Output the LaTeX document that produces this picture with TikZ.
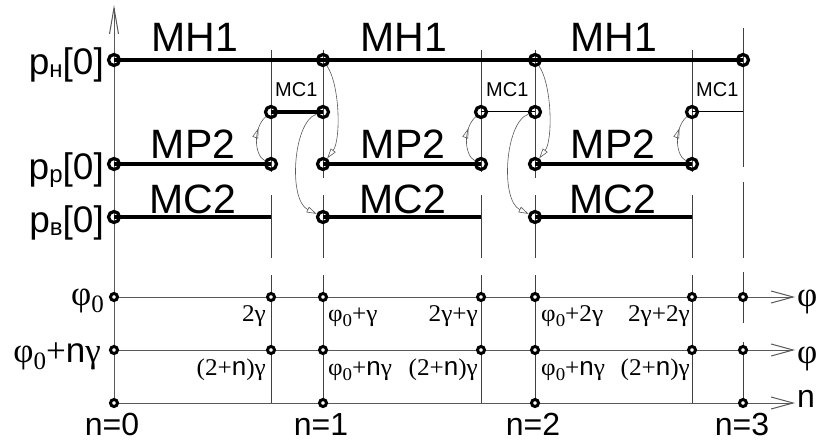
\documentclass[tikz,border=0pt]{standalone}
\usepackage{fontspec}
\setmainfont{Liberation Sans}
\newfontfamily\sns{Liberation Sans}
\newfontfamily\srf[FakeStretch=1.05]{Liberation Serif}
\newfontfamily\srfb{Liberation Serif}
\usetikzlibrary{arrows.meta,decorations.markings}
\pgfdeclarelayer{bg}
\pgfsetlayers{bg,main}
\newcommand\zsmall{\raisebox{-5pt}{\fontsize{18}{18}\selectfont 0}}
\newcommand\zbig{\raisebox{-7pt}{\fontsize{25}{25}\selectfont 0}}
\newcommand\nsm{{\sns\fontsize{26}{26}\selectfont n}}
\newcommand\psub[1]{p\raisebox{-3pt}{\fontsize{24}{24}\selectfont #1}[0]}
\tikzset{
  bigc/.style={circle,draw=black,line width=3.2pt,minimum size=11pt,inner sep=0pt},
  smc/.style={circle,draw=black,fill=white,line width=3pt,minimum size=7pt,inner sep=0pt},
  heavy/.style={line width=4.5pt,draw=black},
  thinblk/.style={line width=1pt,draw=black},
  vline/.style={line width=0.9pt,draw=black!75},
  gridl/.style={line width=1pt,draw=black!65},
  curv/.style={line width=0.6pt,draw=black!65},
  endarr/.style={-{Triangle[open,length=10pt,width=6pt]}},
  midarr/.style={postaction={decorate,decoration={markings,mark=at position #1 with {\arrow{Triangle[open,length=10pt,width=6pt]}}}}},
  bigt/.style={font=\fontsize{41}{45}\selectfont,inner sep=0pt},
  mct/.style={font=\fontsize{20}{22}\selectfont,inner sep=0pt},
  lblt/.style={font=\fontsize{37}{40}\selectfont,inner sep=0pt},
  smt/.style={font=\srf\fontsize{24}{26}\selectfont,inner sep=0pt},
  phit/.style={font=\srfb\fontsize{35}{37}\selectfont,inner sep=0pt},
  nt/.style={font=\sns\fontsize{32}{34}\selectfont,inner sep=0pt}
}
\begin{document}
\begin{tikzpicture}[x=1pt,y=-1pt]
\useasboundingbox (0,0) rectangle (822,441);
% big circles
\foreach \n/\x/\y in {h0/114/60,h1/323/60,h2/535/60,h3/743/60,
  s1a/271/112,s1b/323/112,s2a/481/112,s2b/535/112,s3a/692/112,
  r0/114/164,r1a/271/164,r1b/323/164,r2a/481/164,r2b/535/164,r3a/692/164,
  b0/114/217,b1b/323/217,b2b/535/217}
  \node[bigc] (\n) at (\x,\y) {};
% small circles
\foreach \n/\x/\y in {f0/114/297,fa1/271/297,fb1/323/297,fa2/481/297,fb2/535/297,fa3/692/297,fb3/743/297,
  g0/114/350,ga1/271/350,gb1/323/350,ga2/481/350,gb2/535/350,ga3/692/350,gb3/743/350,
  n0/114/403,nb1/323/403,nb2/535/403,nb3/743/403}
  \node[smc] (\n) at (\x,\y) {};
% free ends
\coordinate (s3b) at (743,112);
\coordinate (b1a) at (271,217);
\coordinate (b2a) at (481,217);
\coordinate (b3a) at (692,217);
\coordinate (ytop) at (114,5);
\coordinate (fend) at (795,297);
\coordinate (gend) at (795,350);
\coordinate (nend) at (795,403);

\begin{pgfonlayer}{bg}
\foreach \x/\ya/\yb in {271/50/172,271/195/258,271/275/403,
  323/50/178,323/195/258,323/275/403,
  481/50/172,481/195/258,481/275/403,
  535/50/178,535/195/258,535/275/403,
  692/50/172,692/195/258,692/275/403,
  743/28/167,743/182/258,743/272/323,743/342/403}
  \draw[vline] (\x,\ya) -- (\x,\yb);
\draw[gridl,-{Straight Barb[length=26pt,width=9pt]}] (n0.center) -- (ytop);
\draw[gridl,-{Straight Barb[length=22pt,width=12pt]}] (f0.center) -- (fend);
\draw[gridl,-{Straight Barb[length=22pt,width=12pt]}] (g0.center) -- (gend);
\draw[gridl,-{Straight Barb[length=22pt,width=12pt]}] (n0.center) -- (nend);
\draw[heavy] (h0.center) -- (h3.center);
\draw[heavy] (s1a.center) -- (s1b.center);
\draw[thinblk] (s2a.center) -- (s2b.center);
\draw[thinblk] (s3a.center) -- (s3b);
\draw[heavy] (r0.center) -- (r1a.center);
\draw[heavy] (r1b.center) -- (r2a.center);
\draw[heavy] (r2b.center) -- (r3a.center);
\draw[heavy] (b0.center) -- (b1a);
\draw[heavy] (b1b.center) -- (b2a);
\draw[heavy] (b2b.center) -- (b3a);
\end{pgfonlayer}

% curved arrows
\draw[curv,midarr=0.72] (r1a) .. controls (254,155) and (253,128) .. (s1a);
\draw[curv,endarr] (h1) .. controls (340,85) and (341,140) .. (r1b);
\draw[curv,endarr] (s1b) .. controls (293,122) and (288,200) .. (b1b);
\draw[curv,midarr=0.72] (r2a) .. controls (464,155) and (463,128) .. (s2a);
\draw[curv,endarr] (h2) .. controls (552,85) and (553,140) .. (r2b);
\draw[curv,endarr] (s2b) .. controls (505,122) and (500,200) .. (b2b);
\draw[curv,midarr=0.72] (r3a) .. controls (675,155) and (674,128) .. (s3a);

% big labels
\node[bigt,anchor=base] (mh1a) at (195,52) {MH1};
\node[bigt,anchor=base] (mh1b) at (404,52) {MH1};
\node[bigt,anchor=base] (mh1c) at (614,52) {MH1};
\node[bigt,anchor=base] (mp2a) at (193,158) {MP2};
\node[bigt,anchor=base] (mp2b) at (403,158) {MP2};
\node[bigt,anchor=base] (mp2c) at (613,158) {MP2};
\node[bigt,anchor=base] (mc2a) at (193,213) {MC2};
\node[bigt,anchor=base] (mc2b) at (403,213) {MC2};
\node[bigt,anchor=base] (mc2c) at (613,213) {MC2};
\node[mct,anchor=base west] (mc1a) at (275,97) {MC1};
\node[mct,anchor=base west] (mc1b) at (486,97) {MC1};
\node[mct,anchor=base west] (mc1c) at (696,97) {MC1};
% left labels
\node[lblt,anchor=base east] (lh) at (104,75) {\psub{н}};
\node[lblt,anchor=base east] (lr) at (104,179) {\psub{р}};
\node[lblt,anchor=base east] (lb) at (104,232) {\psub{в}};
\node[phit,anchor=base east] (lf) at (104,305) {φ\zbig};
\node[phit,anchor=base east] (lg) at (101,362) {φ\zbig+{\sns n}γ};
% right labels
\node[phit,anchor=base west] (rf) at (797,306) {φ};
\node[phit,anchor=base west] (rg) at (797,363) {φ};
\node[nt,anchor=base west] (rn) at (797,407) {n};
% n labels
\node[nt,anchor=base] (n0l) at (112,435) {n=0};
\node[nt,anchor=base] (n1l) at (321,435) {n=1};
\node[nt,anchor=base] (n2l) at (533,435) {n=2};
\node[nt,anchor=base] (n3l) at (742,435) {n=3};
% small labels row phi0
\node[smt,anchor=base east] (t1) at (266,321) {2γ};
\node[smt,anchor=base west] (t2) at (328,321) {φ\zsmall+γ};
\node[smt,anchor=base east] (t3) at (478,321) {2γ+γ};
\node[smt,anchor=base west] (t4) at (541,321) {φ\zsmall+2γ};
\node[smt,anchor=base east] (t5) at (690,321) {2γ+2γ};
% small labels row phi0+n gamma
\node[smt,anchor=base east] (u1) at (266,375) {(2+\nsm)γ};
\node[smt,anchor=base west] (u2) at (328,375) {φ\zsmall+\nsm γ};
\node[smt,anchor=base east] (u3) at (478,375) {(2+\nsm)γ};
\node[smt,anchor=base west] (u4) at (541,375) {φ\zsmall+\nsm γ};
\node[smt,anchor=base east] (u5) at (690,375) {(2+\nsm)γ};
\end{tikzpicture}
\end{document}
